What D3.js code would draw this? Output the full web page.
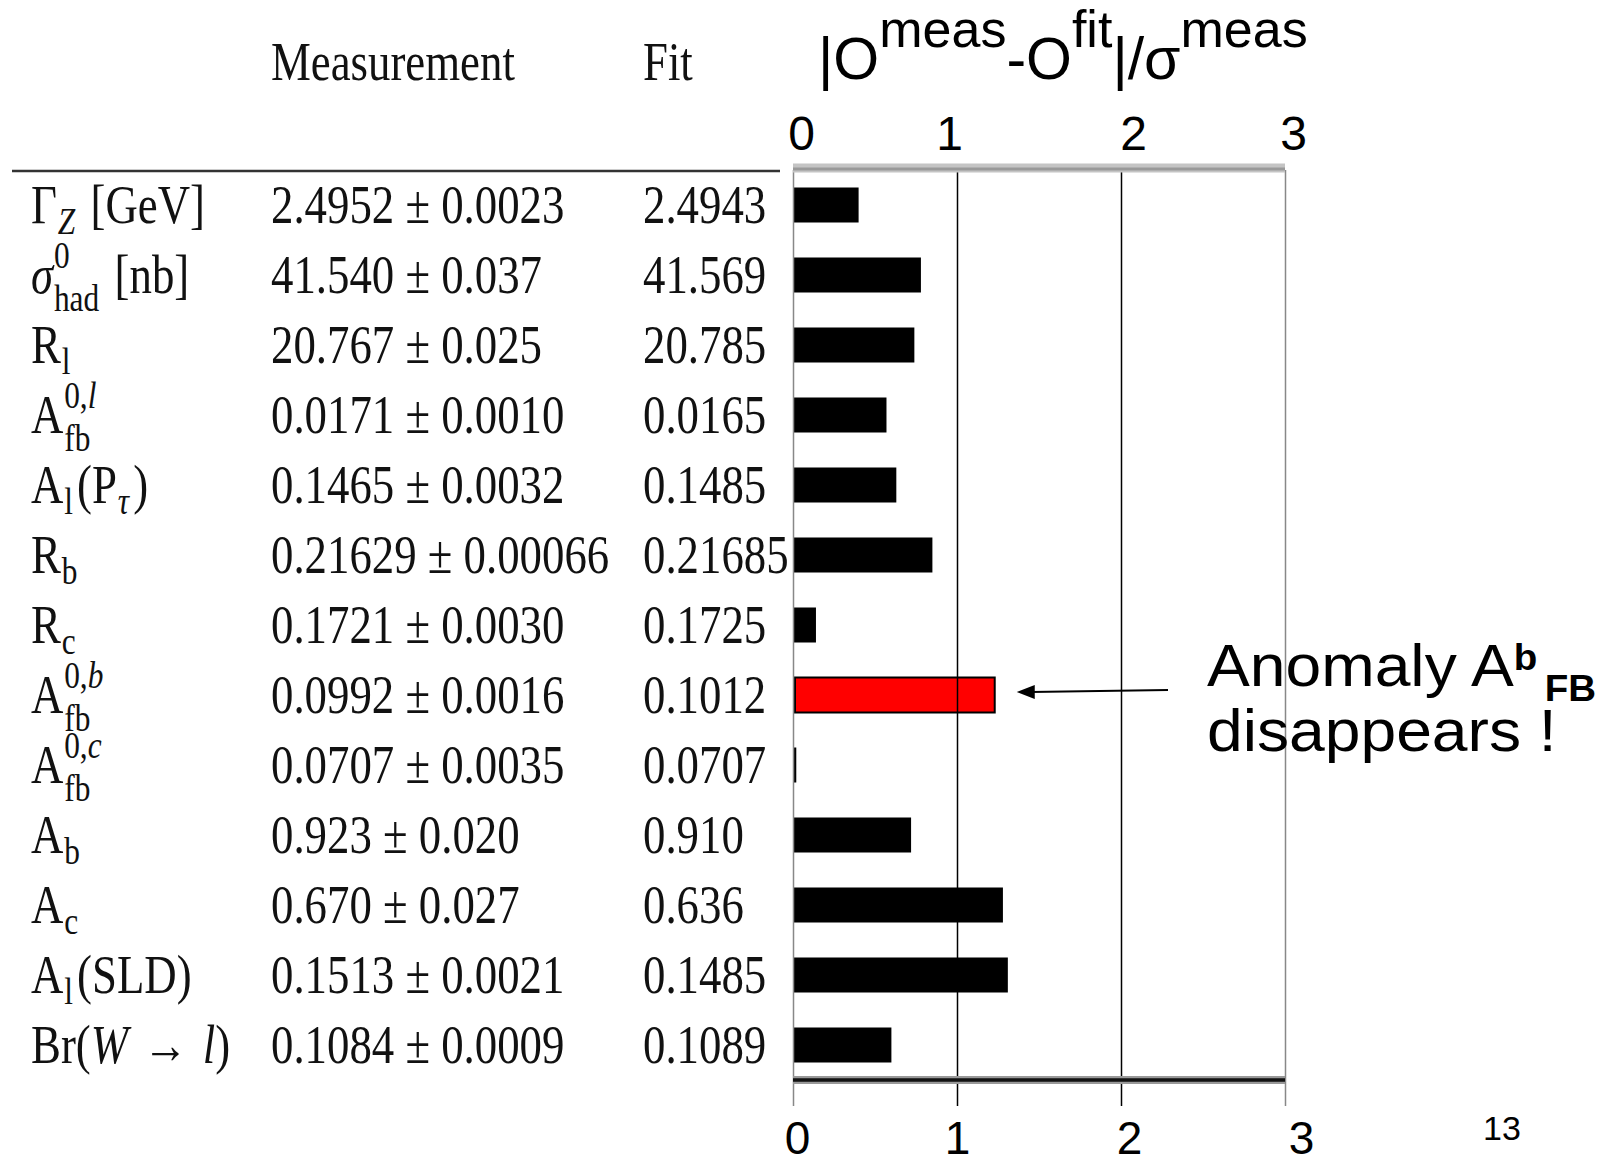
<!DOCTYPE html>
<html>
<head>
<meta charset="UTF-8">
<title>Pulls of the electroweak fit</title>
<style>
  body { margin: 0; background: #fff; }
  svg text { white-space: pre; }
  .tbl { font-family: "Liberation Serif", "Times New Roman", serif; fill: #111; }
  .sans { font-family: "Liberation Sans", Arial, sans-serif; fill: #000; }
</style>
</head>
<body>
<svg width="1604" height="1159"></svg>
<script src="https://d3js.org/d3.v7.min.js"></script>
<script>
// rows of the table, top to bottom. *x* = italic, {sup, sub} = scripts
const labels = [
  ["Γ", {sub: "*Z*"}, " [GeV]"],
  ["*σ*", {sup: "0", sub: "had"}, " [nb]"],
  ["R", {sub: "l"}],
  ["A", {sup: "0,*l*", sub: "fb"}],
  ["A", {sub: "l"}, "(P", {sub: "*τ*"}, ")"],
  ["R", {sub: "b"}],
  ["R", {sub: "c"}],
  ["A", {sup: "0,*b*", sub: "fb"}],
  ["A", {sup: "0,*c*", sub: "fb"}],
  ["A", {sub: "b"}],
  ["A", {sub: "c"}],
  ["A", {sub: "l"}, "(SLD)"],
  ["Br(*W*\u200a → \u200a*l*)"]
];
const measured = [
  "2.4952 ± 0.0023", "41.540 ± 0.037", "20.767 ± 0.025", "0.0171 ± 0.0010",
  "0.1465 ± 0.0032", "0.21629 ± 0.00066", "0.1721 ± 0.0030", "0.0992 ± 0.0016",
  "0.0707 ± 0.0035", "0.923 ± 0.020", "0.670 ± 0.027", "0.1513 ± 0.0021",
  "0.1084 ± 0.0009"
];
const fitted = [
  "2.4943", "41.569", "20.785", "0.0165", "0.1485", "0.21685", "0.1725",
  "0.1012", "0.0707", "0.910", "0.636", "0.1485", "0.1089"
];
// |O_meas - O_fit| / sigma_meas
const pulls = [0.40, 0.78, 0.74, 0.57, 0.63, 0.85, 0.14, 1.23, 0.02, 0.72, 1.28, 1.31, 0.60];
const highlight = 7;   // A_fb^{0,b}
const ticks = [0, 1, 2, 3];

const width = 1604, height = 1159;
const svg = d3.select("svg");
svg.append("rect").attr("width", width).attr("height", height).attr("fill", "#fff");

const x = d3.scaleLinear().domain([0, 3]).range([793, 1285]);
const y = d3.scaleBand().domain(d3.range(labels.length))
  .range([170, 1080]).paddingInner(0.5).paddingOuter(0.25);
const mid = i => y(i) + y.bandwidth() / 2;

// ---- table (latex-like text, squeezed horizontally like the slide) ----
const sx = 0.83, FS = 54;
const tbl = svg.append("g").attr("class", "tbl").attr("transform", `scale(${sx},1)`);

function rich(g, x0, yb, str, size) {
  const t = g.append("text").attr("x", x0).attr("y", yb).attr("font-size", size);
  str.split("*").forEach((s, i) => {
    if (s) t.append("tspan").attr("font-style", i % 2 ? "italic" : "normal").text(s);
  });
  return t.node().getComputedTextLength();
}

rich(tbl, 271 / sx, 80, "Measurement", FS);
rich(tbl, 643 / sx, 80, "Fit", FS);

labels.forEach((parts, i) => {
  let cx = 31 / sx;
  const yb = mid(i) + 18;
  parts.forEach(p => {
    if (typeof p === "string") { cx += rich(tbl, cx, yb, p, FS); return; }
    const both = p.sup && p.sub;
    let w = 0;
    if (p.sup) w = Math.max(w, rich(tbl, cx + 1, yb - 25, p.sup, FS * 0.7));
    if (p.sub) w = Math.max(w, rich(tbl, cx + 1, yb + (both ? 18 : 11), p.sub, FS * 0.7));
    cx += w + 6;
  });
  rich(tbl, 271 / sx, yb, measured[i], FS);
  rich(tbl, 643 / sx, yb, fitted[i], FS);
});

svg.append("line").attr("x1", 12).attr("x2", 780).attr("y1", 171).attr("y2", 171)
  .attr("stroke", "#333").attr("stroke-width", 2.5);

// ---- bars ----
svg.append("g").selectAll("rect").data(pulls).join("rect")
  .attr("x", (d, i) => i === highlight ? x(0) + 2 : x(0))
  .attr("y", (d, i) => y(i))
  .attr("width", (d, i) => x(d) - x(0) - (i === highlight ? 2 : 0))
  .attr("height", y.bandwidth())
  .attr("fill", (d, i) => i === highlight ? "#ff0000" : "#000")
  .attr("stroke", (d, i) => i === highlight ? "#000" : "none")
  .attr("stroke-width", 2);

// ---- frame & axes ----
// the slide's number boxes are not quite centred on the ticks
const topNudge = [8, -8, 12, 8];
const botNudge = [4, 0, 8, 16];

const axisBot = d3.axisBottom(x).tickValues(ticks).tickFormat(d3.format("d"))
  .tickSize(-(1106 - 170)).tickPadding(15);
svg.append("g").attr("class", "sans").attr("transform", "translate(0,1106)")
  .call(axisBot)
  .call(g => g.select(".domain").remove())
  .call(g => g.attr("font-family", null).attr("font-size", 46))
  .call(g => g.selectAll(".tick line").attr("stroke-width", 1.5)
    .attr("stroke", d => (d === 0 || d === 3) ? "#888" : "#000"))
  .call(g => g.selectAll(".tick text").attr("fill", "#000").attr("dx", (d, i) => botNudge[i]));

const axisTop = d3.axisTop(x).tickValues(ticks).tickFormat(d3.format("d"))
  .tickSize(0).tickPadding(20);
svg.append("g").attr("class", "sans").attr("transform", "translate(0,170)")
  .call(axisTop)
  .call(g => g.select(".domain").remove())
  .call(g => g.attr("font-family", null).attr("font-size", 48))
  .call(g => g.selectAll(".tick text").attr("fill", "#000").attr("dx", (d, i) => topNudge[i]));

// top border (grey, soft) and bottom border (dark)
svg.append("line").attr("x1", x(0)).attr("x2", x(3)).attr("y1", 168).attr("y2", 168)
  .attr("stroke", "#c4c4c4").attr("stroke-width", 9);
svg.append("line").attr("x1", x(0)).attr("x2", x(3)).attr("y1", 169).attr("y2", 169)
  .attr("stroke", "#999").attr("stroke-width", 3);
svg.append("line").attr("x1", x(0)).attr("x2", x(3)).attr("y1", 1080).attr("y2", 1080)
  .attr("stroke", "#999").attr("stroke-width", 8);
svg.append("line").attr("x1", x(0)).attr("x2", x(3)).attr("y1", 1080).attr("y2", 1080)
  .attr("stroke", "#111").attr("stroke-width", 3.5);

// ---- title ----
const title = svg.append("text").attr("class", "sans").attr("x", 818).attr("y", 79).attr("font-size", 58);
[["|O", 0], ["meas", 1], ["-O", 0], ["fit", 1], ["|/σ", 0], ["meas", 1]].forEach(([s, up]) => {
  title.append("tspan").attr("y", up ? 47 : 79).attr("font-size", up ? 52 : 59).text(s);
});

// ---- annotation (slide text is stretched a little horizontally) ----
const ay = mid(highlight) - 3;
const tipX = x(pulls[highlight]) + 22;
svg.append("line").attr("x1", 1168).attr("x2", tipX + 14).attr("y1", ay - 2).attr("y2", ay)
  .attr("stroke", "#000").attr("stroke-width", 2);
svg.append("path").attr("d", `M${tipX},${ay} L${tipX + 18},${ay - 7} L${tipX + 18},${ay + 7} Z`)
  .attr("fill", "#000");

const sa = 1.07;
const annG = svg.append("g").attr("class", "sans").attr("transform", `scale(${sa},1)`);
const ann = annG.append("text").attr("x", 1207 / sa).attr("y", 686).attr("font-size", 60);
ann.append("tspan").text("Anomaly A");
ann.append("tspan").attr("y", 670).attr("font-size", 36).attr("font-weight", "bold").text("b");
ann.append("tspan").attr("y", 701).attr("dx", 7).attr("font-size", 36).attr("font-weight", "bold").text("FB");
annG.append("text").attr("x", 1207 / sa).attr("y", 751).attr("font-size", 60)
  .text("disappears !");

// page number
svg.append("text").attr("class", "sans").attr("x", 1483).attr("y", 1140).attr("font-size", 34).text("13");
</script>
</body>
</html>
